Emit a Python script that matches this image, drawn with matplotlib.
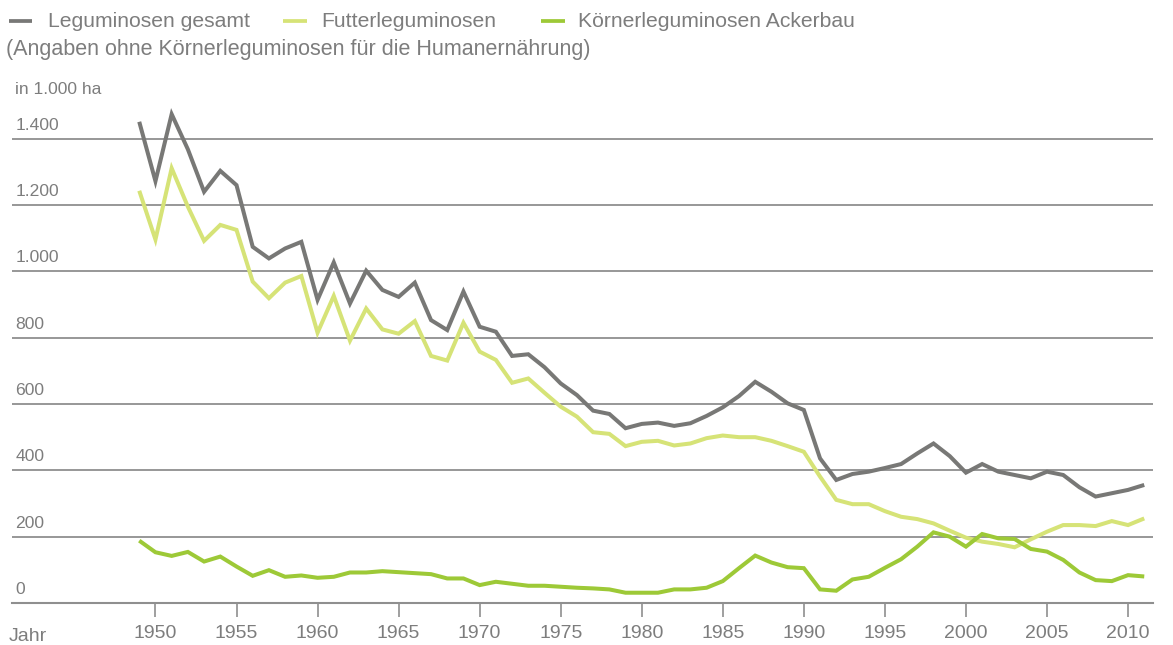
import matplotlib
matplotlib.use("Agg")
import matplotlib.pyplot as plt
import matplotlib.transforms as mtransforms
from matplotlib.lines import Line2D

plt.rcParams['font.family'] = ['Liberation Sans', 'DejaVu Sans']

# ---------------- data ----------------
years = list(range(1949, 2012))

gesamt = [1451, 1272, 1474, 1368, 1240, 1303, 1260, 1074, 1039, 1069,
          1089, 914, 1027, 903, 1002, 944, 923, 966, 853, 823,
          939, 833, 818, 745, 750, 711, 662, 627, 580, 570,
          527, 540, 544, 534, 542, 564, 590, 624, 667, 637,
          602, 582, 436, 371, 389, 396, 407, 419, 451, 481,
          443, 393, 419, 396, 386, 376, 396, 386, 349, 321,
          331, 341, 356]

futter = [1243, 1096, 1311, 1195, 1092, 1140, 1125, 969, 919, 966,
          986, 815, 926, 791, 888, 825, 812, 850, 745, 731,
          845, 758, 733, 664, 677, 634, 592, 562, 515, 510,
          473, 486, 489, 475, 481, 497, 505, 500, 500, 489,
          473, 456, 381, 311, 298, 298, 277, 260, 253, 240,
          218, 197, 185, 178, 168, 192, 215, 235, 235, 232,
          247, 235, 255]

koerner = [188, 153, 142, 154, 125, 140, 110, 82, 99, 79,
           83, 76, 79, 92, 92, 96, 93, 90, 87, 74,
           74, 54, 64, 58, 52, 52, 49, 46, 44, 41,
           31, 31, 31, 41, 41, 46, 66, 105, 143, 122,
           108, 105, 41, 37, 71, 79, 106, 132, 170, 213,
           200, 170, 208, 195, 193, 163, 155, 130, 92, 69,
           66, 84, 80]

series_labels = ["Leguminosen gesamt", "Futterleguminosen", "Körnerleguminosen Ackerbau"]
series_colors = ["#787876", "#d6e377", "#9dc937"]

y_ticks = [0, 200, 400, 600, 800, 1000, 1200, 1400]
y_tick_labels = ["0", "200", "400", "600", "800", "1.000", "1.200", "1.400"]
x_ticks = list(range(1950, 2011, 5))
x_tick_labels = [str(y) for y in x_ticks]

subtitle = "(Angaben ohne Körnerleguminosen für die Humanernährung)"
unit_label = "in 1.000 ha"
x_title = "Jahr"

# ---------------- figure ----------------
W, H = 1173, 645
fig = plt.figure(figsize=(W / 100, H / 100), dpi=100)

def fx(px):
    return px / W

def fy(py):
    return 1 - py / H

ax_left, ax_right = 12, 1153
ax_bottom_px = 603
ymax = 1480
px_per_unit = (603 - 138.7) / 1400
ax_top_px = ax_bottom_px - ymax * px_per_unit
ax = fig.add_axes([fx(ax_left), fy(ax_bottom_px), (ax_right - ax_left) / W,
                   (ax_bottom_px - ax_top_px) / H])

ax.set_xlim(1941.15, 2011.54)
ax.set_ylim(0, ymax)

grid_color = "#8f8f8f"
text_color = "#7d7d7d"

for v in y_ticks[1:]:
    ax.axhline(v, color=grid_color, lw=1.3, zorder=1)

for vals, col in zip([gesamt, futter, koerner], series_colors):
    ax.plot(years, vals, color=col, lw=2.9, solid_joinstyle='miter',
            solid_capstyle='butt', zorder=3, clip_on=False)

for s in ["top", "right", "left"]:
    ax.spines[s].set_visible(False)
ax.spines["bottom"].set_color(grid_color)
ax.spines["bottom"].set_linewidth(1.5)
ax.set_yticks([])

ax.set_xticks(x_ticks)
ax.set_xticklabels(x_tick_labels)
ax.tick_params(axis='x', length=10.2, width=1.2, color=grid_color,
               labelsize=14, labelcolor=text_color, pad=5.5)

# y labels above gridlines
blend = mtransforms.blended_transform_factory(ax.transAxes, ax.transData)
lab_tr = mtransforms.offset_copy(blend, fig=fig, x=0, y=9, units='dots')
for v, lab in zip(y_ticks, y_tick_labels):
    ax.text((15.5 - ax_left) / (ax_right - ax_left), v, lab, transform=lab_tr,
            ha='left', va='baseline', fontsize=12.6, color=text_color)

fig.text(fx(9), fy(641), x_title, ha='left', va='baseline', fontsize=14,
         color=text_color)

# legend (manual)
leg_dash = [(9.3, 31.7), (283, 307), (540.5, 565)]
leg_text_x = [48.3, 321.7, 578]
for (x0, x1), tx, lab, col in zip(leg_dash, leg_text_x, series_labels, series_colors):
    fig.add_artist(Line2D([fx(x0), fx(x1)], [fy(20.7), fy(20.7)],
                          transform=fig.transFigure, color=col, lw=2.7,
                          solid_capstyle='butt'))
    fig.text(fx(tx), fy(27.3), lab, ha='left', va='baseline', fontsize=15.2,
             color=text_color)

fig.text(fx(6), fy(55), subtitle, ha='left', va='baseline', fontsize=15.5,
         color=text_color)
fig.text(fx(15), fy(94.3), unit_label, ha='left', va='baseline', fontsize=12.5,
         color=text_color)

fig.savefig("out.png", dpi=100)
